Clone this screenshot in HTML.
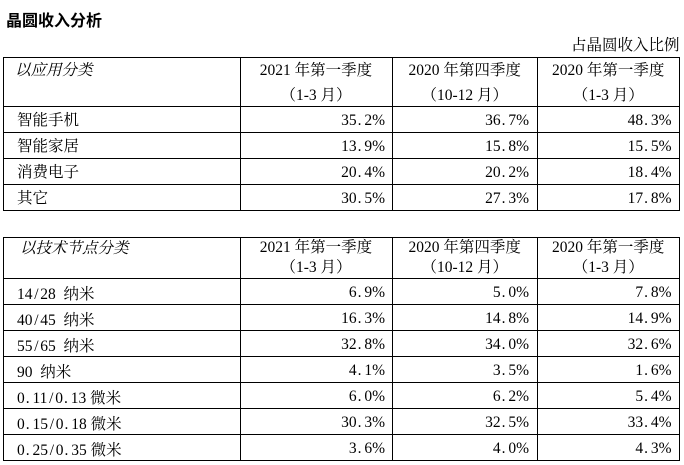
<!DOCTYPE html>
<html><head><meta charset="utf-8">
<style>
html,body{margin:0;padding:0;background:#fff;}
#c{position:relative;width:684px;height:465px;overflow:hidden;background:#fff;color:#000;font-family:"Liberation Serif","Noto Serif CJK SC",serif;font-size:15.5px;line-height:20px;}
.t{position:absolute;white-space:nowrap;}
.hl{position:absolute;left:3px;width:677px;height:1px;background:#000;}
.vl{position:absolute;width:1px;background:#000;}
.h{display:inline-block;width:.5em;text-align:center;}
.p{display:inline-block;width:.5em;text-align:left;padding-left:1px;box-sizing:border-box;}
.r{text-align:right;}
.c{text-align:center;}
.c1{left:241px;width:144px;}
.c2{left:393px;width:136px;}
.c3{left:538px;width:133.5px;}
.h1{left:240px;width:152px;}
.h2{left:392px;width:145.5px;}
.h3{left:537.5px;width:141.5px;}
.l{left:17px;}
.it{font-style:italic;}
</style></head>
<body><div id="c">
<div class="t" style="left:6px;top:12px;font-family:'Liberation Sans','Noto Sans CJK SC',sans-serif;font-weight:bold;font-size:16px;">晶圆收入分析</div>
<div class="t r" style="left:400px;width:279.5px;top:36.3px;">占晶圆收入比例</div>

<!-- table 1 lines -->
<div class="hl" style="top:57px"></div>
<div class="hl" style="top:106px"></div>
<div class="hl" style="top:132px"></div>
<div class="hl" style="top:158px"></div>
<div class="hl" style="top:184px"></div>
<div class="hl" style="top:210px"></div>
<div class="vl" style="left:3px;top:57px;height:154px"></div>
<div class="vl" style="left:240px;top:57px;height:154px"></div>
<div class="vl" style="left:392px;top:57px;height:154px"></div>
<div class="vl" style="left:537px;top:57px;height:154px"></div>
<div class="vl" style="left:679px;top:57px;height:154px"></div>

<div class="t it" style="left:15px;top:60.5px;">以应用分类</div>
<div class="t c h1" style="top:60.5px;">2021 年第一季度</div>
<div class="t c h1" style="top:85.5px;">（1-3 月）</div>
<div class="t c h2" style="top:60.5px;">2020 年第四季度</div>
<div class="t c h2" style="top:85.5px;">（10-12 月）</div>
<div class="t c h3" style="top:60.5px;">2020 年第一季度</div>
<div class="t c h3" style="top:85.5px;">（1-3 月）</div>

<div class="t l" style="top:111px;">智能手机</div>
<div class="t r c1" style="top:111px;">35<span class="p">.</span>2%</div>
<div class="t r c2" style="top:111px;">36<span class="p">.</span>7%</div>
<div class="t r c3" style="top:111px;">48<span class="p">.</span>3%</div>

<div class="t l" style="top:137px;">智能家居</div>
<div class="t r c1" style="top:137px;">13<span class="p">.</span>9%</div>
<div class="t r c2" style="top:137px;">15<span class="p">.</span>8%</div>
<div class="t r c3" style="top:137px;">15<span class="p">.</span>5%</div>

<div class="t l" style="top:163px;">消费电子</div>
<div class="t r c1" style="top:163px;">20<span class="p">.</span>4%</div>
<div class="t r c2" style="top:163px;">20<span class="p">.</span>2%</div>
<div class="t r c3" style="top:163px;">18<span class="p">.</span>4%</div>

<div class="t l" style="top:189px;">其它</div>
<div class="t r c1" style="top:189px;">30<span class="p">.</span>5%</div>
<div class="t r c2" style="top:189px;">27<span class="p">.</span>3%</div>
<div class="t r c3" style="top:189px;">17<span class="p">.</span>8%</div>

<!-- table 2 lines -->
<div class="hl" style="top:237px"></div>
<div class="hl" style="top:278px"></div>
<div class="hl" style="top:304px"></div>
<div class="hl" style="top:330px"></div>
<div class="hl" style="top:356px"></div>
<div class="hl" style="top:382px"></div>
<div class="hl" style="top:408px"></div>
<div class="hl" style="top:434px"></div>
<div class="hl" style="top:460px"></div>
<div class="vl" style="left:3px;top:237px;height:224px"></div>
<div class="vl" style="left:240px;top:237px;height:224px"></div>
<div class="vl" style="left:392px;top:237px;height:224px"></div>
<div class="vl" style="left:537px;top:237px;height:224px"></div>
<div class="vl" style="left:679px;top:237px;height:224px"></div>

<div class="t it" style="left:20px;top:239px;">以技术节点分类</div>
<div class="t c h1" style="top:238px;">2021 年第一季度</div>
<div class="t c h1" style="top:257.5px;">（1-3 月）</div>
<div class="t c h2" style="top:238px;">2020 年第四季度</div>
<div class="t c h2" style="top:257.5px;">（10-12 月）</div>
<div class="t c h3" style="top:238px;">2020 年第一季度</div>
<div class="t c h3" style="top:257.5px;">（1-3 月）</div>

<div class="t l" style="top:284.5px;">14<span class="h">/</span>28<span class="h">&nbsp;</span>纳米</div>
<div class="t r c1" style="top:282.5px;">6<span class="p">.</span>9%</div>
<div class="t r c2" style="top:282.5px;">5<span class="p">.</span>0%</div>
<div class="t r c3" style="top:282.5px;">7<span class="p">.</span>8%</div>

<div class="t l" style="top:310.5px;">40<span class="h">/</span>45<span class="h">&nbsp;</span>纳米</div>
<div class="t r c1" style="top:308.5px;">16<span class="p">.</span>3%</div>
<div class="t r c2" style="top:308.5px;">14<span class="p">.</span>8%</div>
<div class="t r c3" style="top:308.5px;">14<span class="p">.</span>9%</div>

<div class="t l" style="top:336.5px;">55<span class="h">/</span>65<span class="h">&nbsp;</span>纳米</div>
<div class="t r c1" style="top:334.5px;">32<span class="p">.</span>8%</div>
<div class="t r c2" style="top:334.5px;">34<span class="p">.</span>0%</div>
<div class="t r c3" style="top:334.5px;">32<span class="p">.</span>6%</div>

<div class="t l" style="top:362.5px;">90<span class="h">&nbsp;</span>纳米</div>
<div class="t r c1" style="top:360.5px;">4<span class="p">.</span>1%</div>
<div class="t r c2" style="top:360.5px;">3<span class="p">.</span>5%</div>
<div class="t r c3" style="top:360.5px;">1<span class="p">.</span>6%</div>

<div class="t l" style="top:388.5px;">0<span class="p">.</span>11<span class="h">/</span>0<span class="p">.</span>13 微米</div>
<div class="t r c1" style="top:386.5px;">6<span class="p">.</span>0%</div>
<div class="t r c2" style="top:386.5px;">6<span class="p">.</span>2%</div>
<div class="t r c3" style="top:386.5px;">5<span class="p">.</span>4%</div>

<div class="t l" style="top:414.5px;">0<span class="p">.</span>15<span class="h">/</span>0<span class="p">.</span>18 微米</div>
<div class="t r c1" style="top:412.5px;">30<span class="p">.</span>3%</div>
<div class="t r c2" style="top:412.5px;">32<span class="p">.</span>5%</div>
<div class="t r c3" style="top:412.5px;">33<span class="p">.</span>4%</div>

<div class="t l" style="top:440.5px;">0<span class="p">.</span>25<span class="h">/</span>0<span class="p">.</span>35 微米</div>
<div class="t r c1" style="top:438.5px;">3<span class="p">.</span>6%</div>
<div class="t r c2" style="top:438.5px;">4<span class="p">.</span>0%</div>
<div class="t r c3" style="top:438.5px;">4<span class="p">.</span>3%</div>
</div></body></html>
